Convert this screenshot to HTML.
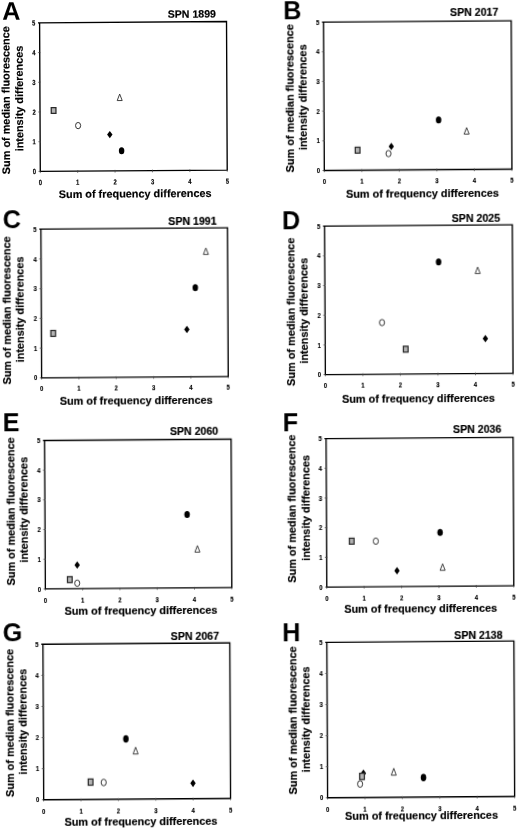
<!DOCTYPE html>
<html lang="en"><head><meta charset="utf-8"><title>Figure: SPN scatter panels A-H</title>
<style>html,body{margin:0;padding:0;background:#fff}svg{display:block}text{font-family:"Liberation Sans", Arial, Helvetica, sans-serif;font-weight:bold;fill:#000}.pl{font-size:25.2px}.tt{font-size:10.6px;stroke:#000;stroke-width:0.18px}.al{font-size:10.88px;stroke:#000;stroke-width:0.18px}.tk{font-size:7.4px;stroke:#000;stroke-width:0.15px}.ax{stroke:#000;stroke-width:1.35;fill:none;stroke-linejoin:miter}.fr{stroke:#222;stroke-width:0.9;fill:none}.tm{stroke:#444;stroke-width:0.7}</style></head><body>
<svg width="520" height="832" viewBox="0 0 520 832">
<defs><filter id="soft" x="0" y="0" width="520" height="832" filterUnits="userSpaceOnUse"><feGaussianBlur stdDeviation="0.32"/></filter></defs>
<rect width="520" height="832" fill="#fff"/>
<g filter="url(#soft)">
<g id="panel-A" transform="matrix(1 -0.00716 0.00471 1 -0.8082 0.2891)">
<path class="ax" d="M38.70,22.87H227.22V171.42H40.30V22.87"/>
<line class="tm" x1="38.50" y1="171.42" x2="40.30" y2="171.42"/>
<line class="tm" x1="40.30" y1="171.42" x2="40.30" y2="173.12"/>
<text class="tk" transform="translate(40.30,185.00) scale(0.8,1)" text-anchor="middle">0</text>
<text class="tk" transform="translate(36.00,174.02) scale(0.8,1)" text-anchor="end">0</text>
<line class="tm" x1="77.69" y1="170.42" x2="77.69" y2="173.12"/>
<line class="tm" x1="38.50" y1="141.71" x2="40.90" y2="141.71"/>
<text class="tk" transform="translate(77.69,185.00) scale(0.8,1)" text-anchor="middle">1</text>
<text class="tk" transform="translate(36.00,144.31) scale(0.8,1)" text-anchor="end">1</text>
<line class="tm" x1="115.07" y1="170.42" x2="115.07" y2="173.12"/>
<line class="tm" x1="38.50" y1="112.00" x2="40.90" y2="112.00"/>
<text class="tk" transform="translate(115.07,185.00) scale(0.8,1)" text-anchor="middle">2</text>
<text class="tk" transform="translate(36.00,114.60) scale(0.8,1)" text-anchor="end">2</text>
<line class="tm" x1="152.46" y1="170.42" x2="152.46" y2="173.12"/>
<line class="tm" x1="38.50" y1="82.29" x2="40.90" y2="82.29"/>
<text class="tk" transform="translate(152.46,185.00) scale(0.8,1)" text-anchor="middle">3</text>
<text class="tk" transform="translate(36.00,84.89) scale(0.8,1)" text-anchor="end">3</text>
<line class="tm" x1="189.84" y1="170.42" x2="189.84" y2="173.12"/>
<line class="tm" x1="38.50" y1="52.58" x2="40.90" y2="52.58"/>
<text class="tk" transform="translate(189.84,185.00) scale(0.8,1)" text-anchor="middle">4</text>
<text class="tk" transform="translate(36.00,55.18) scale(0.8,1)" text-anchor="end">4</text>
<line class="tm" x1="227.22" y1="171.42" x2="227.22" y2="173.12"/>
<text class="tk" transform="translate(227.22,185.00) scale(0.8,1)" text-anchor="middle">5</text>
<text class="tk" transform="translate(36.00,25.47) scale(0.8,1)" text-anchor="end">5</text>
<text class="pl" x="3.09" y="19.49">A</text>
<text class="tt" x="216.72" y="18.76" text-anchor="end">SPN 1899</text>
<text class="al" x="58.62" y="198.13">Sum of frequency differences</text>
<text class="al" transform="translate(9.99,173.98) rotate(-90)">Sum of median fluorescence</text>
<text class="al" transform="translate(23.30,151.24) rotate(-90)">intensity differences</text>
<rect x="51.54" y="107.65" width="4.7" height="5.90" fill="#b4b4b4" stroke="#2a2a2a" stroke-width="1.25"/>
<ellipse cx="78.32" cy="125.87" rx="2.55" ry="3.15" fill="#fff" stroke="#2c2c2c" stroke-width="0.95"/>
<polygon points="109.97,131.40 112.67,135.10 109.97,138.80 107.27,135.10" fill="#000"/>
<ellipse cx="121.70" cy="151.28" rx="2.75" ry="3.55" fill="#000"/>
<polygon points="120.05,94.62 122.55,101.12 117.55,101.12" fill="#fff" stroke="#2c2c2c" stroke-width="0.9" stroke-linejoin="miter"/>
</g>
<g id="panel-B" transform="matrix(1 -0.00716 0.00471 1 -0.8023 2.3214)">
<path class="ax" d="M322.70,22.10H511.92V170.50H324.30V22.10"/>
<line class="tm" x1="322.50" y1="170.50" x2="324.30" y2="170.50"/>
<line class="tm" x1="324.30" y1="170.50" x2="324.30" y2="172.20"/>
<text class="tk" transform="translate(324.30,183.75) scale(0.8,1)" text-anchor="middle">0</text>
<text class="tk" transform="translate(320.00,173.10) scale(0.8,1)" text-anchor="end">0</text>
<line class="tm" x1="361.82" y1="169.50" x2="361.82" y2="172.20"/>
<line class="tm" x1="322.50" y1="140.82" x2="324.90" y2="140.82"/>
<text class="tk" transform="translate(361.82,183.75) scale(0.8,1)" text-anchor="middle">1</text>
<text class="tk" transform="translate(320.00,143.42) scale(0.8,1)" text-anchor="end">1</text>
<line class="tm" x1="399.35" y1="169.50" x2="399.35" y2="172.20"/>
<line class="tm" x1="322.50" y1="111.14" x2="324.90" y2="111.14"/>
<text class="tk" transform="translate(399.35,183.75) scale(0.8,1)" text-anchor="middle">2</text>
<text class="tk" transform="translate(320.00,113.74) scale(0.8,1)" text-anchor="end">2</text>
<line class="tm" x1="436.87" y1="169.50" x2="436.87" y2="172.20"/>
<line class="tm" x1="322.50" y1="81.46" x2="324.90" y2="81.46"/>
<text class="tk" transform="translate(436.87,183.75) scale(0.8,1)" text-anchor="middle">3</text>
<text class="tk" transform="translate(320.00,84.06) scale(0.8,1)" text-anchor="end">3</text>
<line class="tm" x1="474.40" y1="169.50" x2="474.40" y2="172.20"/>
<line class="tm" x1="322.50" y1="51.78" x2="324.90" y2="51.78"/>
<text class="tk" transform="translate(474.40,183.75) scale(0.8,1)" text-anchor="middle">4</text>
<text class="tk" transform="translate(320.00,54.38) scale(0.8,1)" text-anchor="end">4</text>
<line class="tm" x1="511.92" y1="170.50" x2="511.92" y2="172.20"/>
<text class="tk" transform="translate(511.92,183.75) scale(0.8,1)" text-anchor="middle">5</text>
<text class="tk" transform="translate(320.00,24.70) scale(0.8,1)" text-anchor="end">5</text>
<text class="pl" x="284.02" y="19.12">B</text>
<text class="tt" x="499.12" y="16.85" text-anchor="end">SPN 2017</text>
<text class="al" x="345.92" y="198.16">Sum of frequency differences</text>
<text class="al" transform="translate(293.74,172.13) rotate(-90)">Sum of median fluorescence</text>
<text class="al" transform="translate(307.00,150.04) rotate(-90)">intensity differences</text>
<rect x="355.34" y="147.49" width="4.7" height="5.90" fill="#b4b4b4" stroke="#2a2a2a" stroke-width="1.25"/>
<polygon points="391.41,143.18 394.11,146.88 391.41,150.58 388.71,146.88" fill="#000"/>
<ellipse cx="388.58" cy="154.06" rx="2.55" ry="3.15" fill="#fff" stroke="#2c2c2c" stroke-width="0.95"/>
<ellipse cx="438.83" cy="120.72" rx="2.75" ry="3.55" fill="#000"/>
<polygon points="466.78,128.67 469.28,135.17 464.28,135.17" fill="#fff" stroke="#2c2c2c" stroke-width="0.9" stroke-linejoin="miter"/>
</g>
<g id="panel-C" transform="matrix(1 -0.00716 0.00471 1 -1.7808 0.2970)">
<path class="ax" d="M40.00,229.17H228.23V377.87H41.60V229.17"/>
<line class="tm" x1="39.80" y1="377.87" x2="41.60" y2="377.87"/>
<line class="tm" x1="41.60" y1="377.87" x2="41.60" y2="379.57"/>
<text class="tk" transform="translate(41.60,391.25) scale(0.8,1)" text-anchor="middle">0</text>
<text class="tk" transform="translate(37.30,380.47) scale(0.8,1)" text-anchor="end">0</text>
<line class="tm" x1="78.93" y1="376.87" x2="78.93" y2="379.57"/>
<line class="tm" x1="39.80" y1="348.13" x2="42.20" y2="348.13"/>
<text class="tk" transform="translate(78.93,391.25) scale(0.8,1)" text-anchor="middle">1</text>
<text class="tk" transform="translate(37.30,350.73) scale(0.8,1)" text-anchor="end">1</text>
<line class="tm" x1="116.25" y1="376.87" x2="116.25" y2="379.57"/>
<line class="tm" x1="39.80" y1="318.39" x2="42.20" y2="318.39"/>
<text class="tk" transform="translate(116.25,391.25) scale(0.8,1)" text-anchor="middle">2</text>
<text class="tk" transform="translate(37.30,320.99) scale(0.8,1)" text-anchor="end">2</text>
<line class="tm" x1="153.58" y1="376.87" x2="153.58" y2="379.57"/>
<line class="tm" x1="39.80" y1="288.65" x2="42.20" y2="288.65"/>
<text class="tk" transform="translate(153.58,391.25) scale(0.8,1)" text-anchor="middle">3</text>
<text class="tk" transform="translate(37.30,291.25) scale(0.8,1)" text-anchor="end">3</text>
<line class="tm" x1="190.90" y1="376.87" x2="190.90" y2="379.57"/>
<line class="tm" x1="39.80" y1="258.91" x2="42.20" y2="258.91"/>
<text class="tk" transform="translate(190.90,391.25) scale(0.8,1)" text-anchor="middle">4</text>
<text class="tk" transform="translate(37.30,261.51) scale(0.8,1)" text-anchor="end">4</text>
<line class="tm" x1="228.23" y1="377.87" x2="228.23" y2="379.57"/>
<text class="tk" transform="translate(228.23,391.25) scale(0.8,1)" text-anchor="middle">5</text>
<text class="tk" transform="translate(37.30,231.77) scale(0.8,1)" text-anchor="end">5</text>
<text class="pl" x="3.42" y="228.51">C</text>
<text class="tt" x="217.37" y="225.66" text-anchor="end">SPN 1991</text>
<text class="al" x="59.67" y="404.53">Sum of frequency differences</text>
<text class="al" transform="translate(10.97,384.33) rotate(-90)">Sum of median fluorescence</text>
<text class="al" transform="translate(24.18,362.24) rotate(-90)">intensity differences</text>
<rect x="51.06" y="330.54" width="4.7" height="5.90" fill="#b4b4b4" stroke="#2a2a2a" stroke-width="1.25"/>
<polygon points="187.12,326.74 189.82,330.44 187.12,334.14 184.42,330.44" fill="#000"/>
<ellipse cx="195.72" cy="288.80" rx="2.75" ry="3.55" fill="#000"/>
<polygon points="206.49,249.13 208.99,255.63 203.99,255.63" fill="#fff" stroke="#2c2c2c" stroke-width="0.9" stroke-linejoin="miter"/>
</g>
<g id="panel-D" transform="matrix(1 -0.00716 0.00471 1 -1.7660 2.3300)">
<path class="ax" d="M323.75,226.17H513.03V374.60H325.35V226.17"/>
<line class="tm" x1="323.55" y1="374.60" x2="325.35" y2="374.60"/>
<line class="tm" x1="325.35" y1="374.60" x2="325.35" y2="376.30"/>
<text class="tk" transform="translate(325.35,388.00) scale(0.8,1)" text-anchor="middle">0</text>
<text class="tk" transform="translate(321.05,377.20) scale(0.8,1)" text-anchor="end">0</text>
<line class="tm" x1="362.89" y1="373.60" x2="362.89" y2="376.30"/>
<line class="tm" x1="323.55" y1="344.91" x2="325.95" y2="344.91"/>
<text class="tk" transform="translate(362.89,388.00) scale(0.8,1)" text-anchor="middle">1</text>
<text class="tk" transform="translate(321.05,347.51) scale(0.8,1)" text-anchor="end">1</text>
<line class="tm" x1="400.42" y1="373.60" x2="400.42" y2="376.30"/>
<line class="tm" x1="323.55" y1="315.22" x2="325.95" y2="315.22"/>
<text class="tk" transform="translate(400.42,388.00) scale(0.8,1)" text-anchor="middle">2</text>
<text class="tk" transform="translate(321.05,317.82) scale(0.8,1)" text-anchor="end">2</text>
<line class="tm" x1="437.96" y1="373.60" x2="437.96" y2="376.30"/>
<line class="tm" x1="323.55" y1="285.54" x2="325.95" y2="285.54"/>
<text class="tk" transform="translate(437.96,388.00) scale(0.8,1)" text-anchor="middle">3</text>
<text class="tk" transform="translate(321.05,288.14) scale(0.8,1)" text-anchor="end">3</text>
<line class="tm" x1="475.49" y1="373.60" x2="475.49" y2="376.30"/>
<line class="tm" x1="323.55" y1="255.85" x2="325.95" y2="255.85"/>
<text class="tk" transform="translate(475.49,388.00) scale(0.8,1)" text-anchor="middle">4</text>
<text class="tk" transform="translate(321.05,258.45) scale(0.8,1)" text-anchor="end">4</text>
<line class="tm" x1="513.03" y1="374.60" x2="513.03" y2="376.30"/>
<text class="tk" transform="translate(513.03,388.00) scale(0.8,1)" text-anchor="middle">5</text>
<text class="tk" transform="translate(321.05,228.77) scale(0.8,1)" text-anchor="end">5</text>
<text class="pl" x="282.75" y="228.81">D</text>
<text class="tt" x="500.86" y="223.50" text-anchor="end">SPN 2025</text>
<text class="al" x="341.92" y="402.87">Sum of frequency differences</text>
<text class="al" transform="translate(295.20,385.63) rotate(-90)">Sum of median fluorescence</text>
<text class="al" transform="translate(308.46,363.54) rotate(-90)">intensity differences</text>
<ellipse cx="439.13" cy="262.71" rx="2.75" ry="3.55" fill="#000"/>
<polygon points="478.19,268.14 480.69,274.64 475.69,274.64" fill="#fff" stroke="#2c2c2c" stroke-width="0.9" stroke-linejoin="miter"/>
<ellipse cx="382.24" cy="323.01" rx="2.55" ry="3.15" fill="#fff" stroke="#2c2c2c" stroke-width="0.95"/>
<rect x="403.47" y="346.82" width="4.7" height="5.90" fill="#b4b4b4" stroke="#2a2a2a" stroke-width="1.25"/>
<polygon points="485.56,336.04 488.26,339.74 485.56,343.44 482.86,339.74" fill="#000"/>
</g>
<g id="panel-E" transform="matrix(1 -0.00716 0.00471 1 -2.7744 0.3249)">
<path class="ax" d="M43.75,440.47H231.80V588.92H45.35V440.47"/>
<line class="tm" x1="43.55" y1="588.92" x2="45.35" y2="588.92"/>
<line class="tm" x1="45.35" y1="588.92" x2="45.35" y2="590.62"/>
<text class="tk" transform="translate(45.35,602.50) scale(0.8,1)" text-anchor="middle">0</text>
<text class="tk" transform="translate(41.05,591.52) scale(0.8,1)" text-anchor="end">0</text>
<line class="tm" x1="82.64" y1="587.92" x2="82.64" y2="590.62"/>
<line class="tm" x1="43.55" y1="559.23" x2="45.95" y2="559.23"/>
<text class="tk" transform="translate(82.64,602.50) scale(0.8,1)" text-anchor="middle">1</text>
<text class="tk" transform="translate(41.05,561.83) scale(0.8,1)" text-anchor="end">1</text>
<line class="tm" x1="119.93" y1="587.92" x2="119.93" y2="590.62"/>
<line class="tm" x1="43.55" y1="529.54" x2="45.95" y2="529.54"/>
<text class="tk" transform="translate(119.93,602.50) scale(0.8,1)" text-anchor="middle">2</text>
<text class="tk" transform="translate(41.05,532.14) scale(0.8,1)" text-anchor="end">2</text>
<line class="tm" x1="157.22" y1="587.92" x2="157.22" y2="590.62"/>
<line class="tm" x1="43.55" y1="499.85" x2="45.95" y2="499.85"/>
<text class="tk" transform="translate(157.22,602.50) scale(0.8,1)" text-anchor="middle">3</text>
<text class="tk" transform="translate(41.05,502.45) scale(0.8,1)" text-anchor="end">3</text>
<line class="tm" x1="194.51" y1="587.92" x2="194.51" y2="590.62"/>
<line class="tm" x1="43.55" y1="470.16" x2="45.95" y2="470.16"/>
<text class="tk" transform="translate(194.51,602.50) scale(0.8,1)" text-anchor="middle">4</text>
<text class="tk" transform="translate(41.05,472.76) scale(0.8,1)" text-anchor="end">4</text>
<line class="tm" x1="231.80" y1="588.92" x2="231.80" y2="590.62"/>
<text class="tk" transform="translate(231.80,602.50) scale(0.8,1)" text-anchor="middle">5</text>
<text class="tk" transform="translate(41.05,443.07) scale(0.8,1)" text-anchor="end">5</text>
<text class="pl" x="3.46" y="430.96">E</text>
<text class="tt" x="219.02" y="435.84" text-anchor="end">SPN 2060</text>
<text class="al" x="64.43" y="614.54">Sum of frequency differences</text>
<text class="al" transform="translate(15.02,585.23) rotate(-90)">Sum of median fluorescence</text>
<text class="al" transform="translate(28.23,562.54) rotate(-90)">intensity differences</text>
<polygon points="77.31,561.53 80.01,565.23 77.31,568.93 74.61,565.23" fill="#000"/>
<ellipse cx="187.45" cy="515.52" rx="2.75" ry="3.55" fill="#000"/>
<polygon points="197.58,546.74 200.08,553.24 195.08,553.24" fill="#fff" stroke="#2c2c2c" stroke-width="0.9" stroke-linejoin="miter"/>
<rect x="67.49" y="576.82" width="4.7" height="5.90" fill="#b4b4b4" stroke="#2a2a2a" stroke-width="1.25"/>
<ellipse cx="77.23" cy="583.43" rx="2.55" ry="3.15" fill="#fff" stroke="#2c2c2c" stroke-width="0.95"/>
</g>
<g id="panel-F" transform="matrix(1 -0.00716 0.00471 1 -2.7674 2.3371)">
<path class="ax" d="M325.18,438.55H513.78V587.09H326.78V438.55"/>
<line class="tm" x1="324.98" y1="587.09" x2="326.78" y2="587.09"/>
<line class="tm" x1="326.78" y1="587.09" x2="326.78" y2="588.79"/>
<text class="tk" transform="translate(326.78,600.60) scale(0.8,1)" text-anchor="middle">0</text>
<text class="tk" transform="translate(322.48,589.69) scale(0.8,1)" text-anchor="end">0</text>
<line class="tm" x1="364.18" y1="586.09" x2="364.18" y2="588.79"/>
<line class="tm" x1="324.98" y1="557.38" x2="327.38" y2="557.38"/>
<text class="tk" transform="translate(364.18,600.60) scale(0.8,1)" text-anchor="middle">1</text>
<text class="tk" transform="translate(322.48,559.98) scale(0.8,1)" text-anchor="end">1</text>
<line class="tm" x1="401.58" y1="586.09" x2="401.58" y2="588.79"/>
<line class="tm" x1="324.98" y1="527.68" x2="327.38" y2="527.68"/>
<text class="tk" transform="translate(401.58,600.60) scale(0.8,1)" text-anchor="middle">2</text>
<text class="tk" transform="translate(322.48,530.28) scale(0.8,1)" text-anchor="end">2</text>
<line class="tm" x1="438.98" y1="586.09" x2="438.98" y2="588.79"/>
<line class="tm" x1="324.98" y1="497.97" x2="327.38" y2="497.97"/>
<text class="tk" transform="translate(438.98,600.60) scale(0.8,1)" text-anchor="middle">3</text>
<text class="tk" transform="translate(322.48,500.57) scale(0.8,1)" text-anchor="end">3</text>
<line class="tm" x1="476.38" y1="586.09" x2="476.38" y2="588.79"/>
<line class="tm" x1="324.98" y1="468.26" x2="327.38" y2="468.26"/>
<text class="tk" transform="translate(476.38,600.60) scale(0.8,1)" text-anchor="middle">4</text>
<text class="tk" transform="translate(322.48,470.86) scale(0.8,1)" text-anchor="end">4</text>
<line class="tm" x1="513.78" y1="587.09" x2="513.78" y2="588.79"/>
<text class="tk" transform="translate(513.78,600.60) scale(0.8,1)" text-anchor="middle">5</text>
<text class="tk" transform="translate(322.48,441.15) scale(0.8,1)" text-anchor="end">5</text>
<text class="pl" x="283.45" y="430.70">F</text>
<text class="tt" x="502.12" y="433.75" text-anchor="end">SPN 2036</text>
<text class="al" x="344.18" y="613.13">Sum of frequency differences</text>
<text class="al" transform="translate(296.27,582.48) rotate(-90)">Sum of median fluorescence</text>
<text class="al" transform="translate(309.73,560.64) rotate(-90)">intensity differences</text>
<rect x="349.57" y="538.43" width="4.7" height="5.90" fill="#b4b4b4" stroke="#2a2a2a" stroke-width="1.25"/>
<ellipse cx="376.02" cy="541.55" rx="2.55" ry="3.15" fill="#fff" stroke="#2c2c2c" stroke-width="0.95"/>
<ellipse cx="440.35" cy="533.21" rx="2.75" ry="3.55" fill="#000"/>
<polygon points="397.08,567.60 399.78,571.30 397.08,575.00 394.38,571.30" fill="#000"/>
<polygon points="442.69,564.68 445.19,571.18 440.19,571.18" fill="#fff" stroke="#2c2c2c" stroke-width="0.9" stroke-linejoin="miter"/>
</g>
<g id="panel-G" transform="matrix(1 -0.00716 0.00471 1 -3.7688 0.3113)">
<path class="ax" d="M42.07,644.25H230.54V799.79H43.67V644.25"/>
<line class="tm" x1="41.87" y1="799.79" x2="43.67" y2="799.79"/>
<line class="tm" x1="43.67" y1="799.79" x2="43.67" y2="801.49"/>
<text class="tk" transform="translate(43.67,813.75) scale(0.8,1)" text-anchor="middle">0</text>
<text class="tk" transform="translate(39.37,802.39) scale(0.8,1)" text-anchor="end">0</text>
<line class="tm" x1="81.04" y1="798.79" x2="81.04" y2="801.49"/>
<line class="tm" x1="41.87" y1="768.68" x2="44.27" y2="768.68"/>
<text class="tk" transform="translate(81.04,813.75) scale(0.8,1)" text-anchor="middle">1</text>
<text class="tk" transform="translate(39.37,771.28) scale(0.8,1)" text-anchor="end">1</text>
<line class="tm" x1="118.42" y1="798.79" x2="118.42" y2="801.49"/>
<line class="tm" x1="41.87" y1="737.57" x2="44.27" y2="737.57"/>
<text class="tk" transform="translate(118.42,813.75) scale(0.8,1)" text-anchor="middle">2</text>
<text class="tk" transform="translate(39.37,740.17) scale(0.8,1)" text-anchor="end">2</text>
<line class="tm" x1="155.79" y1="798.79" x2="155.79" y2="801.49"/>
<line class="tm" x1="41.87" y1="706.46" x2="44.27" y2="706.46"/>
<text class="tk" transform="translate(155.79,813.75) scale(0.8,1)" text-anchor="middle">3</text>
<text class="tk" transform="translate(39.37,709.06) scale(0.8,1)" text-anchor="end">3</text>
<line class="tm" x1="193.17" y1="798.79" x2="193.17" y2="801.49"/>
<line class="tm" x1="41.87" y1="675.36" x2="44.27" y2="675.36"/>
<text class="tk" transform="translate(193.17,813.75) scale(0.8,1)" text-anchor="middle">4</text>
<text class="tk" transform="translate(39.37,677.96) scale(0.8,1)" text-anchor="end">4</text>
<line class="tm" x1="230.54" y1="799.79" x2="230.54" y2="801.49"/>
<text class="tk" transform="translate(230.54,813.75) scale(0.8,1)" text-anchor="middle">5</text>
<text class="tk" transform="translate(39.37,646.85) scale(0.8,1)" text-anchor="end">5</text>
<text class="pl" x="3.46" y="641.09">G</text>
<text class="tt" x="219.90" y="641.26" text-anchor="end">SPN 2067</text>
<text class="al" x="64.42" y="826.40">Sum of frequency differences</text>
<text class="al" transform="translate(13.52,796.74) rotate(-90)">Sum of median fluorescence</text>
<text class="al" transform="translate(26.72,774.39) rotate(-90)">intensity differences</text>
<ellipse cx="126.18" cy="739.59" rx="2.75" ry="3.73" fill="#000"/>
<polygon points="135.83,747.85 138.33,754.67 133.33,754.67" fill="#fff" stroke="#2c2c2c" stroke-width="0.9" stroke-linejoin="miter"/>
<rect x="88.33" y="779.34" width="4.7" height="6.20" fill="#b4b4b4" stroke="#2a2a2a" stroke-width="1.25"/>
<ellipse cx="103.78" cy="782.93" rx="2.55" ry="3.31" fill="#fff" stroke="#2c2c2c" stroke-width="0.95"/>
<polygon points="193.07,780.39 195.77,784.27 193.07,788.16 190.37,784.27" fill="#000"/>
</g>
<g id="panel-H" transform="matrix(1 -0.00716 0.00471 1 -3.7593 2.3436)">
<path class="ax" d="M325.97,642.42H514.62V797.79H327.57V642.42"/>
<line class="tm" x1="325.77" y1="797.79" x2="327.57" y2="797.79"/>
<line class="tm" x1="327.57" y1="797.79" x2="327.57" y2="799.49"/>
<text class="tk" transform="translate(327.57,811.90) scale(0.8,1)" text-anchor="middle">0</text>
<text class="tk" transform="translate(323.27,800.39) scale(0.8,1)" text-anchor="end">0</text>
<line class="tm" x1="364.98" y1="796.79" x2="364.98" y2="799.49"/>
<line class="tm" x1="325.77" y1="766.72" x2="328.17" y2="766.72"/>
<text class="tk" transform="translate(364.98,811.90) scale(0.8,1)" text-anchor="middle">1</text>
<text class="tk" transform="translate(323.27,769.32) scale(0.8,1)" text-anchor="end">1</text>
<line class="tm" x1="402.39" y1="796.79" x2="402.39" y2="799.49"/>
<line class="tm" x1="325.77" y1="735.64" x2="328.17" y2="735.64"/>
<text class="tk" transform="translate(402.39,811.90) scale(0.8,1)" text-anchor="middle">2</text>
<text class="tk" transform="translate(323.27,738.24) scale(0.8,1)" text-anchor="end">2</text>
<line class="tm" x1="439.80" y1="796.79" x2="439.80" y2="799.49"/>
<line class="tm" x1="325.77" y1="704.57" x2="328.17" y2="704.57"/>
<text class="tk" transform="translate(439.80,811.90) scale(0.8,1)" text-anchor="middle">3</text>
<text class="tk" transform="translate(323.27,707.17) scale(0.8,1)" text-anchor="end">3</text>
<line class="tm" x1="477.21" y1="796.79" x2="477.21" y2="799.49"/>
<line class="tm" x1="325.77" y1="673.49" x2="328.17" y2="673.49"/>
<text class="tk" transform="translate(477.21,811.90) scale(0.8,1)" text-anchor="middle">4</text>
<text class="tk" transform="translate(323.27,676.09) scale(0.8,1)" text-anchor="end">4</text>
<line class="tm" x1="514.62" y1="797.79" x2="514.62" y2="799.49"/>
<text class="tk" transform="translate(514.62,811.90) scale(0.8,1)" text-anchor="middle">5</text>
<text class="tk" transform="translate(323.27,645.02) scale(0.8,1)" text-anchor="end">5</text>
<text class="pl" x="283.05" y="641.29">H</text>
<text class="tt" x="503.39" y="639.76" text-anchor="end">SPN 2138</text>
<text class="al" x="345.05" y="819.88">Sum of frequency differences</text>
<text class="al" transform="translate(296.92,794.23) rotate(-90)">Sum of median fluorescence</text>
<text class="al" transform="translate(310.12,772.14) rotate(-90)">intensity differences</text>
<polygon points="363.51,769.67 366.21,773.56 363.51,777.44 360.81,773.56" fill="#000"/>
<rect x="359.75" y="773.55" width="4.7" height="6.20" fill="#b4b4b4" stroke="#2a2a2a" stroke-width="1.25"/>
<ellipse cx="360.16" cy="784.23" rx="2.55" ry="3.31" fill="#fff" stroke="#2c2c2c" stroke-width="0.95"/>
<polygon points="393.87,768.81 396.37,775.64 391.37,775.64" fill="#fff" stroke="#2c2c2c" stroke-width="0.9" stroke-linejoin="miter"/>
<ellipse cx="423.59" cy="778.19" rx="2.75" ry="3.73" fill="#000"/>
</g>
</g>
</svg></body></html>
